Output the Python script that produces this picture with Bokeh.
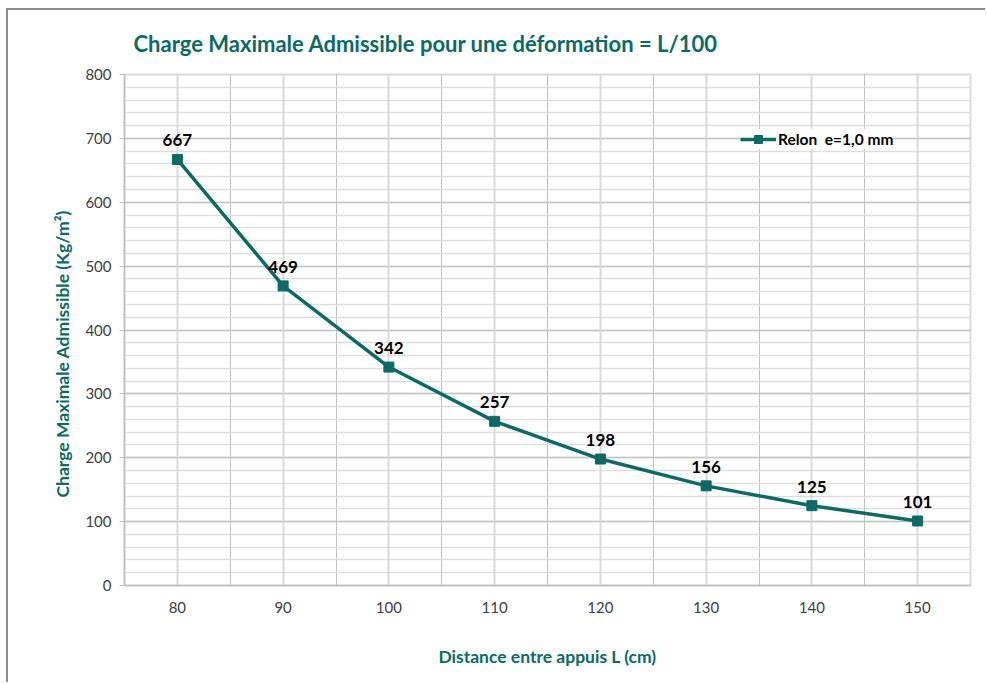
from bokeh.plotting import figure
from bokeh.models import (ColumnDataSource, FixedTicker, Grid, LabelSet, Legend,
                          LegendItem, Range1d, Title)
from bokeh.core.properties import value
from bokeh.embed import file_html
from bokeh.resources import INLINE

# ---- data ----
distances = [80, 90, 100, 110, 120, 130, 140, 150]
charges = [667, 469, 342, 257, 198, 156, 125, 101]
series_name = "Relon  e=1,0 mm"
title_text = "Charge Maximale Admissible pour une déformation = L/100"
x_label = "Distance entre appuis L (cm)"
y_label = "Charge Maximale Admissible  (Kg/m²)"
y_ticks = list(range(0, 801, 100))
y_minor = list(range(0, 801, 20))
x_ticks = distances
x_bounds = [d + 5 for d in distances[:-1]]

TEAL = "#0A6B65"
FONT = "Lato"

src = ColumnDataSource(dict(x=distances, y=charges, lab=[str(c) for c in charges]))

XR = Range1d(75, 155)
YR = Range1d(0, 800)

p = figure(width=979, height=674, output_backend="svg", toolbar_location=None,
           x_range=XR, y_range=YR,
           min_border_left=116, min_border_right=17, min_border_top=63,
           min_border_bottom=99, background_fill_color="white",
           border_fill_color="white",
           styles={"border-left": "2px solid #8c8c8c", "border-top": "2px solid #8c8c8c",
                   "margin-left": "6px", "margin-top": "8px"})

p.title = Title(text=title_text, align="left", offset=9, standoff=35,
                text_font=FONT, text_font_size="22px", text_font_style="bold",
                text_color=TEAL)

p.outline_line_color = "#d9d9d9"
p.outline_line_width = 2

# grids
p.xgrid.ticker = FixedTicker(ticks=x_bounds)
p.xgrid.grid_line_color = "#bfbfbf"
p.xgrid.grid_line_width = 1
p.add_layout(Grid(dimension=0, ticker=FixedTicker(ticks=x_ticks),
                  grid_line_color="#d9d9d9", grid_line_width=2))
p.ygrid.ticker = FixedTicker(ticks=y_ticks, minor_ticks=y_minor)
p.ygrid.grid_line_color = "#c4c4c4"
p.ygrid.grid_line_width = 1.5
p.ygrid.minor_grid_line_color = "#dedede"
p.ygrid.minor_grid_line_width = 1.5

# axes
p.xaxis.ticker = FixedTicker(ticks=x_ticks)
p.yaxis.ticker = FixedTicker(ticks=y_ticks, minor_ticks=y_minor)
for ax in (p.xaxis, p.yaxis):
    ax.axis_line_color = "#bfbfbf"
    ax.axis_line_width = 1.5
    ax.major_label_text_font = FONT
    ax.major_label_text_font_size = "15px"
    ax.major_label_text_color = "#404040"
    ax.axis_label_text_font = FONT
    ax.axis_label_text_font_size = "17.5px"
    ax.axis_label_text_font_style = "bold"
    ax.axis_label_text_color = TEAL
    ax.minor_tick_line_color = None
p.xaxis.major_tick_line_color = None
p.xaxis.major_label_standoff = 10
p.xaxis.axis_label = x_label
p.xaxis.axis_label_standoff = 30
p.yaxis.major_tick_line_color = "#bfbfbf"
p.yaxis.major_tick_out = 5
p.yaxis.major_tick_in = 0
p.yaxis.major_label_standoff = 8

# y axis title as a left-side title so it can sit a bit below the centre
p.add_layout(Title(text=y_label, align="left", offset=88, standoff=20,
                   text_font=FONT, text_font_size="17.5px", text_font_style="bold",
                   text_color=TEAL), "left")

# series
ln = p.line("x", "y", source=src, line_color=TEAL, line_width=3.5)
mk = p.scatter("x", "y", source=src, marker="square", size=10,
               fill_color=TEAL, line_color=TEAL)

labels = LabelSet(x="x", y="y", text="lab", source=src, y_offset=13,
                  text_align="center", text_baseline="bottom",
                  text_font=value(FONT), text_font_size=value("17px"),
                  text_font_style=value("bold"), text_color=value("black"))
p.add_layout(labels)

legend = Legend(items=[LegendItem(label=series_name, renderers=[ln, mk])],
                location=(616, 436), orientation="vertical",
                label_text_font=FONT, label_text_font_size="15.5px",
                label_text_font_style="bold", label_text_color="black",
                glyph_width=36, label_standoff=2, padding=13, margin=0,
                border_line_color=None, background_fill_color="white",
                background_fill_alpha=1.0)
p.add_layout(legend)

open("out.html", "w").write(file_html(p, INLINE))
